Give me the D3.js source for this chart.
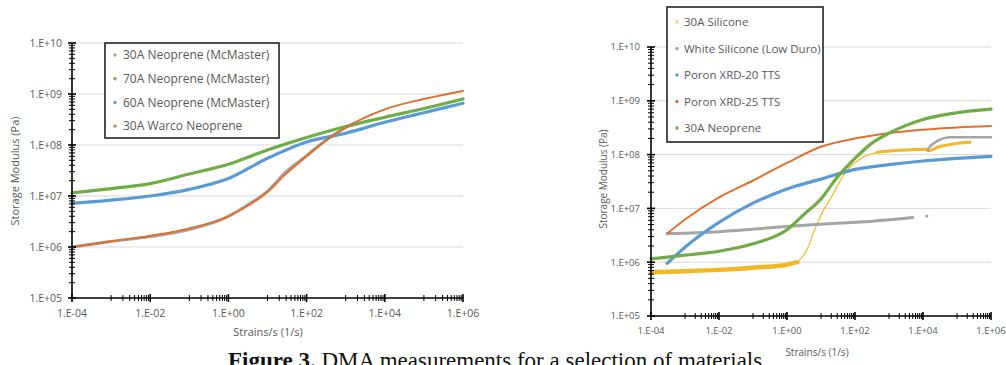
<!DOCTYPE html>
<html><head><meta charset="utf-8">
<script src="https://cdn.jsdelivr.net/npm/d3@7"></script>
<style>body{margin:0;background:#fff;} svg{display:block;font-family:"Open Sans",sans-serif;}</style>
</head><body><svg id="c" width="1006" height="365"></svg>
<script>
// ---------- shared axis values ----------
const xTickValues = [1e-4, 1e-2, 1e0, 1e2, 1e4, 1e6];
const xTickLabels = ["1.E-04", "1.E-02", "1.E+00", "1.E+02", "1.E+04", "1.E+06"];
const yTickValues = [1e5, 1e6, 1e7, 1e8, 1e9, 1e10];
const yTickLabels = ["1.E+05", "1.E+06", "1.E+07", "1.E+08", "1.E+09", "1.E+10"];
const xTitle = "Strains/s (1/s)";
const yTitle = "Storage Modulus (Pa)";
const caption1 = "Figure 3.";
const caption2 = " DMA measurements for a selection of materials";

// ---------- left chart data ----------
const leftNames = ["30A Neoprene (McMaster)", "70A Neoprene (McMaster)", "60A Neoprene (McMaster)", "30A Warco Neoprene"];
const leftColors = ["#A5A5A5", "#70AD47", "#5B9BD5", "#E07030"];
const n30McX = [1e-4, 1e-3, 1e-2, 1e-1, 1, 3, 10, 30, 100, 300, 1000, 1500];
const n30McY = [1.0e6, 1.28e6, 1.6e6, 2.2e6, 4.0e6, 6.6e6, 1.25e7, 3.0e7, 6.2e7, 1.22e8, 2.2e8, 2.6e8];
const n70X = [1e-4, 1e-3, 1e-2, 1e-1, 1, 10, 100, 1e3, 1e4, 1e5, 1e6];
const n70Y = [1.15e7, 1.4e7, 1.75e7, 2.7e7, 4.2e7, 8.0e7, 1.4e8, 2.3e8, 3.5e8, 5.2e8, 8.0e8];
const n60X = [1e-4, 1e-3, 1e-2, 1e-1, 1, 10, 100, 1e3, 1e4, 1e5, 1e6];
const n60Y = [7.2e6, 8.3e6, 1.0e7, 1.35e7, 2.2e7, 5.5e7, 1.15e8, 1.7e8, 2.8e8, 4.3e8, 6.6e8];
const warcoX = [1e-4, 1e-3, 1e-2, 1e-1, 1, 3, 10, 30, 100, 300, 1e3, 1e4, 1e5, 1e6];
const warcoY = [1.0e6, 1.3e6, 1.65e6, 2.3e6, 4.0e6, 6.3e6, 1.2e7, 2.75e7, 6.0e7, 1.2e8, 2.2e8, 5.0e8, 8.0e8, 1.15e9];

// ---------- right chart data ----------
const rightNames = ["30A Silicone", "White Silicone (Low Duro)", "Poron XRD-20 TTS", "Poron XRD-25 TTS", "30A Neoprene"];
const rightColors = ["#F2B824", "#A5A5A5", "#5B9BD5", "#E07030", "#70AD47"];
const sil30LowX = [1e-4, 1e-3, 1e-2, 1e-1, 1, 2];
const sil30LowY = [6.5e5, 6.8e5, 7.2e5, 7.9e5, 9.0e5, 1.0e6];
const sil30RiseX = [2, 4, 6, 10, 20, 50, 150, 450];
const sil30RiseY = [1.0e6, 1.8e6, 3.5e6, 7.5e6, 1.6e7, 4.5e7, 8.5e7, 1.1e8];
const sil30HighX = [450, 2e3, 1.3e4, 1.4e4, 3e4, 2.4e5];
const sil30HighY = [1.1e8, 1.2e8, 1.26e8, 1.18e8, 1.4e8, 1.7e8];
const whiteLowX = [3e-4, 1e-2, 1, 10, 100, 5e3];
const whiteLowY = [3.4e6, 3.7e6, 4.6e6, 5.1e6, 5.5e6, 6.8e6];
const whiteDotX = [1.3e4];
const whiteDotY = [7.2e6];
const whiteHighX = [1.4e4, 1.45e4, 2e4, 6.3e4, 1e6];
const whiteHighY = [1.18e8, 1.3e8, 1.6e8, 2.1e8, 2.1e8];
const poron20X = [3e-4, 1e-3, 1e-2, 1e-1, 1, 10, 100, 1e3, 1e4, 1e5, 1e6];
const poron20Y = [9.5e5, 1.9e6, 5.5e6, 1.25e7, 2.3e7, 3.5e7, 5.3e7, 6.5e7, 7.6e7, 8.5e7, 9.3e7];
const poron25X = [3e-4, 1e-3, 1e-2, 1e-1, 1, 10, 100, 1e3, 1e4, 1e5, 1e6];
const poron25Y = [3.4e6, 6.2e6, 1.6e7, 3.3e7, 7.0e7, 1.4e8, 2.0e8, 2.5e8, 2.9e8, 3.2e8, 3.4e8];
const neo30X = [1e-4, 1e-3, 1e-2, 1e-1, 1, 3, 10, 30, 100, 300, 1e3, 1e4, 1e5, 1e6];
const neo30Y = [1.15e6, 1.35e6, 1.6e6, 2.2e6, 4.0e6, 7.5e6, 1.5e7, 3.8e7, 8.5e7, 1.6e8, 2.5e8, 4.5e8, 6.0e8, 7.0e8];

const svg = d3.select("#c");
const zip = (xs, ys) => xs.map((x, i) => [x, ys[i]]);

function drawPanel(p) {
  const g = svg.append("g");
  const x = d3.scaleLog().domain([1e-4, 1e6]).range([p.x0, p.x1]);
  const y = d3.scaleLog().domain([1e5, 1e10]).range([p.y1, p.y0]);
  // gridlines
  g.selectAll(".grid").data(yTickValues.slice(1)).join("line")
    .attr("x1", p.x0).attr("x2", p.x1)
    .attr("y1", d => y(d)).attr("y2", d => y(d))
    .attr("stroke", "#D9D9D9").attr("stroke-width", 1);
  // series
  const line = d3.line().x(d => x(d[0])).y(d => y(d[1])).curve(d3.curveMonotoneX);
  p.series.forEach(s => {
    if (s.dot) {
      g.selectAll(null).data(zip(s.x, s.y)).join("circle")
        .attr("cx", d => x(d[0])).attr("cy", d => y(d[1])).attr("r", 1.6).attr("fill", s.color);
    } else {
      g.append("path").datum(zip(s.x, s.y)).attr("d", line)
        .attr("fill", "none").attr("stroke", s.color).attr("stroke-width", s.w)
        .attr("stroke-dasharray", s.dash || null).attr("stroke-linecap", "round");
    }
  });
  // axes lines
  g.append("line").attr("x1", p.x0).attr("x2", p.x0).attr("y1", p.y0).attr("y2", p.y1)
    .attr("stroke", "#000").attr("stroke-width", 1.6);
  g.append("line").attr("x1", p.x0).attr("x2", p.x1).attr("y1", p.y1).attr("y2", p.y1)
    .attr("stroke", "#000").attr("stroke-width", 1.6);
  // y ticks
  const yMinor = [];
  for (let k = 0; k < yTickValues.length - 1; k++)
    for (let m = 2; m <= 9; m++) yMinor.push(yTickValues[k] * m);
  g.selectAll(null).data(yMinor).join("line")
    .attr("x1", p.x0 - 3).attr("x2", p.x0 + 3)
    .attr("y1", d => y(d)).attr("y2", d => y(d)).attr("stroke", "#000").attr("stroke-width", 1);
  g.selectAll(null).data(yTickValues).join("line")
    .attr("x1", p.x0 - 4).attr("x2", p.x0 + 4)
    .attr("y1", d => y(d)).attr("y2", d => y(d)).attr("stroke", "#000").attr("stroke-width", 1.6);
  // x ticks
  const xMinor = [];
  for (let k = 0; k < xTickValues.length - 1; k++)
    for (let m = 1; m <= 9; m++) xMinor.push(xTickValues[k] * 10 * m);
  g.selectAll(null).data(xMinor).join("line")
    .attr("x1", d => x(d)).attr("x2", d => x(d))
    .attr("y1", p.y1 - 3).attr("y2", p.y1 + 3).attr("stroke", "#000").attr("stroke-width", 1);
  g.selectAll(null).data(xTickValues).join("line")
    .attr("x1", d => x(d)).attr("x2", d => x(d))
    .attr("y1", p.y1 - 4).attr("y2", p.y1 + 4).attr("stroke", "#000").attr("stroke-width", 1.6);
  // tick labels
  g.selectAll(null).data(yTickValues).join("text")
    .attr("x", p.ylabX).attr("y", d => y(d)).attr("dy", "0.35em")
    .attr("text-anchor", "end").attr("font-size", p.tickFs).attr("fill", "#595959")
    .text((d, i) => yTickLabels[i]);
  g.selectAll(null).data(xTickValues).join("text")
    .attr("x", d => x(d)).attr("y", p.xlabY).attr("dy", "0.35em")
    .attr("text-anchor", "middle").attr("font-size", p.tickFs).attr("fill", "#595959")
    .text((d, i) => xTickLabels[i]);
  // titles
  g.append("text").attr("x", p.xtX).attr("y", p.xtY).attr("dy", "0.35em")
    .attr("text-anchor", "middle").attr("font-size", p.titleFs).attr("fill", "#595959").text(xTitle);
  g.append("text").attr("transform", `translate(${p.ytX},${p.ytY}) rotate(-90)`).attr("dy", "0.35em")
    .attr("text-anchor", "middle").attr("font-size", p.titleFs).attr("fill", "#595959").text(yTitle);
  // legend
  const L = p.legend;
  g.append("rect").attr("x", L.x).attr("y", L.y).attr("width", L.w).attr("height", L.h)
    .attr("fill", "#fff").attr("stroke", "#222").attr("stroke-width", 1.6);
  L.names.forEach((n, i) => {
    const cy = L.y + L.first + i * L.step;
    if (L.markers[i] === "x") {
      g.append("text").attr("x", L.x + L.mx).attr("y", cy).attr("dy", "0.35em")
        .attr("text-anchor", "middle").attr("font-size", 9).attr("fill", L.colors[i]).text("×");
    } else {
      g.append("circle").attr("cx", L.x + L.mx).attr("cy", cy).attr("r", 1.7).attr("fill", L.colors[i]);
    }
    g.append("text").attr("x", L.x + L.tx).attr("y", cy).attr("dy", "0.35em")
      .attr("font-size", L.fs).attr("fill", "#595959").text(n);
  });
}

drawPanel({
  x0: 72, x1: 463, y0: 43, y1: 298,
  ylabX: 62, xlabY: 313, tickFs: 10.5, titleFs: 11,
  xtX: 268, xtY: 332, ytX: 15, ytY: 171,
  series: [
    {x: n30McX, y: n30McY, color: leftColors[0], w: 3},
    {x: n70X, y: n70Y, color: leftColors[1], w: 3.2},
    {x: n60X, y: n60Y, color: leftColors[2], w: 3.2},
    {x: warcoX, y: warcoY, color: leftColors[3], w: 2}
  ],
  legend: {x: 105, y: 43, w: 174, h: 95, first: 12, step: 23.7, mx: 10, tx: 18, fs: 12,
    names: leftNames, colors: leftColors, markers: ["o", "o", "o", "o"]}
});

drawPanel({
  x0: 651, x1: 991, y0: 47, y1: 316,
  ylabX: 640, xlabY: 331, tickFs: 9.5, titleFs: 10,
  xtX: 817, xtY: 352, ytX: 603, ytY: 179,
  series: [
    {x: sil30LowX, y: sil30LowY, color: rightColors[0], w: 4.5},
    {x: sil30RiseX, y: sil30RiseY, color: rightColors[0], w: 1.3, dash: "2,1.2"},
    {x: sil30HighX, y: sil30HighY, color: rightColors[0], w: 3},
    {x: whiteLowX, y: whiteLowY, color: rightColors[1], w: 3},
    {x: whiteDotX, y: whiteDotY, color: rightColors[1], dot: true},
    {x: whiteHighX, y: whiteHighY, color: rightColors[1], w: 2.6},
    {x: poron20X, y: poron20Y, color: rightColors[2], w: 3.2},
    {x: poron25X, y: poron25Y, color: rightColors[3], w: 2},
    {x: neo30X, y: neo30Y, color: rightColors[4], w: 3.2}
  ],
  legend: {x: 667, y: 7, w: 156, h: 135, first: 15, step: 26.5, mx: 10, tx: 17, fs: 11.5,
    names: rightNames, colors: rightColors, markers: ["x", "o", "o", "o", "o"]}
});

// caption (cut off at the bottom edge, as in the reference)
const cap = svg.append("text").attr("x", 228).attr("y", 368)
  .attr("font-family", "'Liberation Serif', 'Times New Roman', serif").attr("font-size", 23).attr("fill", "#111");
cap.append("tspan").attr("font-weight", "bold").text(caption1);
cap.append("tspan").text(caption2);
</script></body></html>
